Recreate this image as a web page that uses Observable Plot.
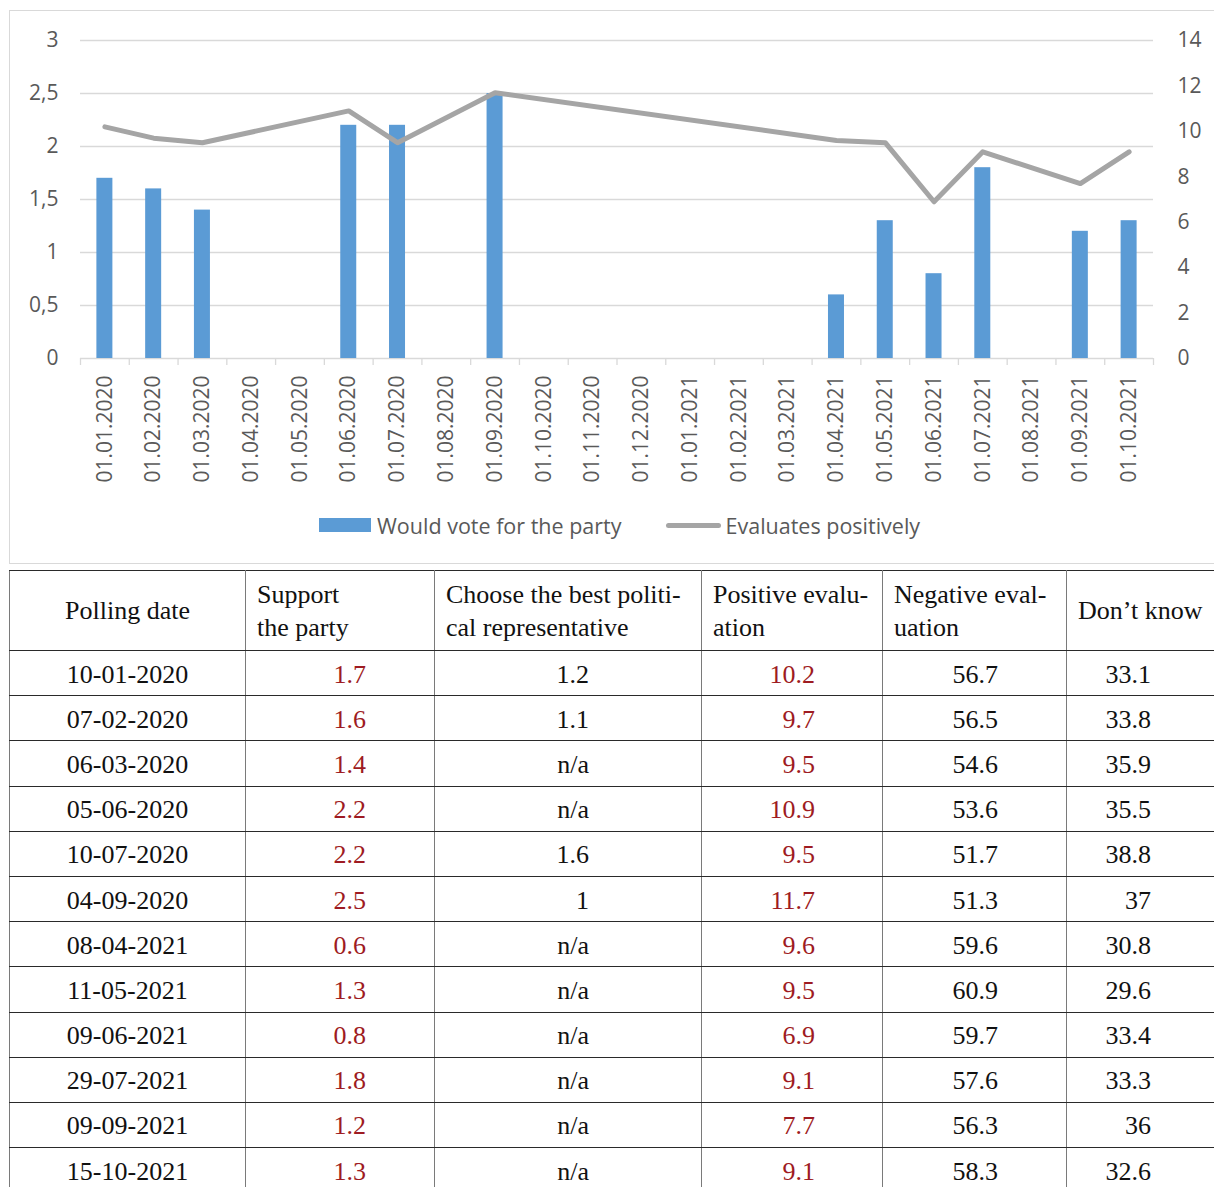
<!DOCTYPE html>
<html>
<head>
<meta charset="utf-8">
<script src="https://cdn.jsdelivr.net/npm/d3@7"></script>
<script src="https://cdn.jsdelivr.net/npm/@observablehq/plot@0.6"></script>
<style>
  html, body { margin: 0; padding: 0; background: #fff; overflow: hidden; width: 1214px; height: 1187px; }
  #box { position: absolute; left: 9px; top: 10px; width: 1210px; height: 554px; border: 1px solid #d9d9d9; box-sizing: border-box; }
  #chart { position: absolute; left: 0; top: 0; }
  #legend { position: absolute; left: 319px; top: 512px; height: 26px; display: flex; align-items: center;
            font-family: "Open Sans", sans-serif; font-size: 21.5px; color: #595959; white-space: nowrap; }
  .sw-bar { width: 52px; height: 14px; background: #5b9bd5; margin-right: 6px; }
  .sw-line { width: 55px; height: 5px; border-radius: 3px; background: #a5a5a5; margin-right: 5px; margin-left: 44px; }
  table { position: absolute; left: 9px; top: 570px; border-collapse: collapse; table-layout: fixed; width: 1210px;
          font-family: "Liberation Serif", "Times New Roman", serif; font-size: 26px; color: #111; }
  td, th { border-top: 1.5px solid #2a2a2a; border-bottom: 1.5px solid #2a2a2a; border-left: 1.5px solid #7a7a7a; border-right: 1.5px solid #7a7a7a;
           padding: 0; vertical-align: middle; overflow: hidden; white-space: nowrap; }
  th { font-weight: normal; text-align: left; padding-left: 11px; line-height: 33px; height: 79px; padding-top: 0; }
  th.c0 { text-align: center; padding-left: 0; }
  tbody tr { height: 45.2px; }
  td { text-align: right; line-height: 30px; padding-top: 3px; }
  td.c0 { text-align: center; }
  td.c1 { padding-right: 68px; color: #9e1b22; }
  td.c2 { padding-right: 112px; }
  td.c3 { padding-right: 67px; color: #9e1b22; }
  td.c4 { padding-right: 68px; }
  td.c5 { padding-right: 68px; }
</style>
</head>
<body>
<div id="box"></div>
<div id="chart"></div>
<div id="legend"><div class="sw-bar"></div><span>Would vote for the party</span><div class="sw-line"></div><span>Evaluates positively</span></div>
<table id="tbl"></table>
<script>
// ---- Data ----
const months = ["01.01.2020","01.02.2020","01.03.2020","01.04.2020","01.05.2020","01.06.2020","01.07.2020","01.08.2020","01.09.2020","01.10.2020","01.11.2020","01.12.2020","01.01.2021","01.02.2021","01.03.2021","01.04.2021","01.05.2021","01.06.2021","01.07.2021","01.08.2021","01.09.2021","01.10.2021"];
const pollDates = ["10-01-2020","07-02-2020","06-03-2020","05-06-2020","10-07-2020","04-09-2020","08-04-2021","11-05-2021","09-06-2021","29-07-2021","09-09-2021","15-10-2021"];
const supportParty = [1.7, 1.6, 1.4, 2.2, 2.2, 2.5, 0.6, 1.3, 0.8, 1.8, 1.2, 1.3];
const bestRepresentative = ["1.2","1.1","n/a","n/a","1.6","1","n/a","n/a","n/a","n/a","n/a","n/a"];
const positiveEval = [10.2, 9.7, 9.5, 10.9, 9.5, 11.7, 9.6, 9.5, 6.9, 9.1, 7.7, 9.1];
const negativeEval = [56.7, 56.5, 54.6, 53.6, 51.7, 51.3, 59.6, 60.9, 59.7, 57.6, 56.3, 58.3];
const dontKnow = [33.1, 33.8, 35.9, 35.5, 38.8, 37, 30.8, 29.6, 33.4, 33.3, 36, 32.6];
const leftTicks = [0, 0.5, 1, 1.5, 2, 2.5, 3];
const rightTicks = [0, 2, 4, 6, 8, 10, 12, 14];
const headers = ["Polling date", "Support<br>the party", "Choose the best politi-<br>cal representative", "Positive evalu-<br>ation", "Negative eval-<br>uation", "Don’t know"];

// ---- Chart ----
const W = 1214, H = 500, ML = 80, MR = 61, MT = 40, MB = 142;
const step = (W - ML - MR) / months.length;
const pad = 1 - 16 / step;
const ratio = 3 / 14; // right axis (0–14) onto left axis (0–3)
const polls = pollDates.map((d, i) => ({
  month: "01." + d.slice(3).replace("-", "."),
  vote: supportParty[i],
  pos: positiveEval[i]
}));

const chart = Plot.plot({
  width: W, height: H,
  marginLeft: ML, marginRight: MR, marginTop: MT, marginBottom: MB,
  style: {fontFamily: "'Open Sans', sans-serif", fontSize: "21px", color: "#595959", background: "transparent", overflow: "visible"},
  x: {type: "band", domain: months, paddingInner: pad, paddingOuter: pad / 2, round: false, axis: null},
  y: {domain: [0, 3], axis: null},
  marks: [
    Plot.gridY(leftTicks, {stroke: "#d9d9d9", strokeOpacity: 1, strokeWidth: 1.3}),
    Plot.ruleX(months, {x: d => d, y1: 0, y2: 0, insetBottom: -7, dx: -step / 2, stroke: "#d9d9d9", strokeWidth: 1.3}),
    Plot.ruleX(months.slice(-1), {x: d => d, y1: 0, y2: 0, insetBottom: -7, dx: step / 2, stroke: "#d9d9d9", strokeWidth: 1.3}),
    Plot.barY(polls, {x: "month", y: "vote", fill: "#5b9bd5"}),
    Plot.lineY(polls, {x: "month", y: d => d.pos * ratio, stroke: "#a5a5a5", strokeWidth: 5, strokeLinejoin: "round", strokeLinecap: "round"}),
    Plot.axisY(leftTicks, {anchor: "left", tickSize: 0, tickPadding: 22, tickFormat: d => String(d).replace(".", ","), fontSize: 21, label: null}),
    Plot.axisY(rightTicks.map(v => v * ratio), {anchor: "right", tickSize: 0, tickPadding: 24, tickFormat: d => String(Math.round(d / ratio)), fontSize: 21, label: null}),
    Plot.text(months, {x: d => d, y: 0, text: d => d, rotate: -90, textAnchor: "end", lineAnchor: "middle", dy: 17, fill: "#595959", fontSize: 21})
  ]
});
document.getElementById("chart").appendChild(chart);

// ---- Table ----
const colWidths = [236, 189, 267, 181, 184, 153];
const tbl = document.getElementById("tbl");
const colgroup = document.createElement("colgroup");
colWidths.forEach(w => { const c = document.createElement("col"); c.style.width = w + "px"; colgroup.appendChild(c); });
tbl.appendChild(colgroup);
const thead = document.createElement("thead");
const hr = document.createElement("tr");
headers.forEach((h, i) => { const th = document.createElement("th"); th.className = "c" + i; th.innerHTML = h; hr.appendChild(th); });
thead.appendChild(hr);
tbl.appendChild(thead);
const tbody = document.createElement("tbody");
pollDates.forEach((d, i) => {
  const tr = document.createElement("tr");
  [d, supportParty[i], bestRepresentative[i], positiveEval[i], negativeEval[i], dontKnow[i]].forEach((v, j) => {
    const td = document.createElement("td");
    td.className = "c" + j;
    td.textContent = String(v);
    tr.appendChild(td);
  });
  tbody.appendChild(tr);
});
tbl.appendChild(tbody);
</script>
</body>
</html>
